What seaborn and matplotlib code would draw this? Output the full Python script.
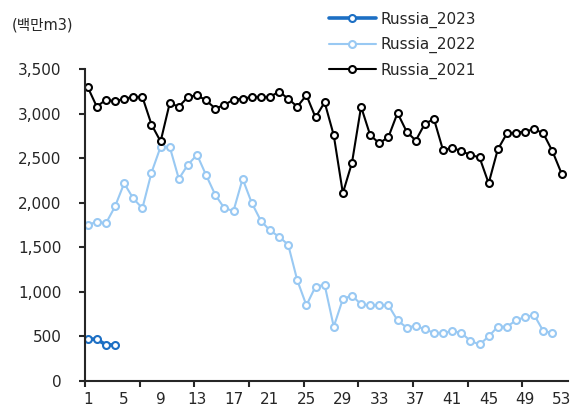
import matplotlib
matplotlib.use('Agg')
import matplotlib.pyplot as plt
import seaborn as sns
import numpy as np
import pandas as pd

# weekly volumes, million m3
weeks_2023 = [1, 2, 3, 4]
russia_2023 = [470, 470, 405, 405]

weeks_2022 = list(range(1, 53))
russia_2022 = [1750, 1790, 1770, 1960, 2220, 2050, 1940, 2340, 2630, 2630,
               2270, 2430, 2540, 2310, 2090, 1940, 1910, 2270, 2000, 1800,
               1690, 1620, 1530, 1130, 850, 1060, 1080, 610, 920, 960,
               860, 850, 850, 850, 680, 600, 620, 580, 540, 540,
               560, 540, 450, 410, 500, 610, 610, 680, 720, 740,
               560, 540]

weeks_2021 = list(range(1, 54))
russia_2021 = [3300, 3080, 3160, 3140, 3170, 3190, 3190, 2880, 2690, 3120,
               3080, 3190, 3210, 3150, 3060, 3100, 3160, 3170, 3190, 3190,
               3190, 3250, 3170, 3080, 3210, 2960, 3130, 2760, 2110, 2450,
               3080, 2760, 2670, 2740, 3010, 2800, 2700, 2890, 2940, 2590,
               2620, 2580, 2540, 2510, 2220, 2600, 2780, 2790, 2800, 2830,
               2780, 2580, 2330]

xtick_labels = list(range(1, 54, 4))

sns.set_style('ticks')
plt.rcParams['font.family'] = ['DejaVu Sans', 'Noto Sans CJK KR']

fig = plt.figure(figsize=(5.84, 4.09), dpi=100)
ax = fig.add_axes([0.1455, 0.0685, 0.827, 0.762])

series = [
    ('Russia_2023', weeks_2023, russia_2023, '#1C6FC4', 2.6),
    ('Russia_2022', weeks_2022, russia_2022, '#99C9F3', 1.5),
    ('Russia_2021', weeks_2021, russia_2021, '#000000', 1.5),
]
for name, w, v, col, lw in series:
    df = pd.DataFrame({'week': w, 'value': v})
    sns.lineplot(data=df, x='week', y='value', ax=ax, color=col, linewidth=lw,
                 marker='o', markersize=5, markerfacecolor='white',
                 markeredgecolor=col, markeredgewidth=1.5, label=name)

ax.set_xlim(0.7, 53.7)
ax.set_ylim(0, 3500)
ax.set_yticks(np.arange(0, 3501, 500))
ax.yaxis.set_major_formatter(matplotlib.ticker.FuncFormatter(lambda v, p: f'{int(v):,}'))
ax.set_xticks(xtick_labels)
ax.set_xticklabels([str(t) for t in xtick_labels])
ax.set_xticks(np.arange(0.7, 54, 6), minor=True)
ax.tick_params(axis='x', which='major', length=0, labelsize=11, pad=8)
ax.tick_params(axis='x', which='minor', length=4, width=1.5, direction='out')
ax.tick_params(axis='y', length=4, width=1.5, labelsize=11, pad=13)
ax.set_xlabel('')
ax.set_ylabel('')
for s in ['top', 'right']:
    ax.spines[s].set_visible(False)
for s in ['left', 'bottom']:
    ax.spines[s].set_linewidth(1.5)

ax.legend(loc='upper left', bbox_to_anchor=(0.55, 0.99),
          bbox_transform=fig.transFigure, frameon=False, fontsize=11,
          handlelength=3.07, handletextpad=0.33, labelspacing=0.6, borderpad=0)

fig.text(0.02, 0.94, '(백만m3)', fontsize=10.5, ha='left', va='center')

fig.savefig('out.png', dpi=100)
